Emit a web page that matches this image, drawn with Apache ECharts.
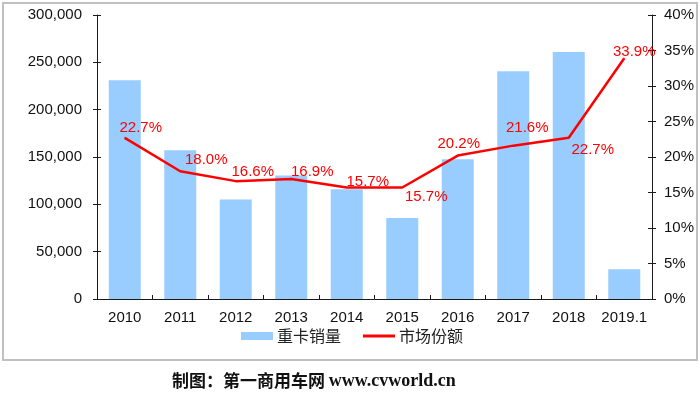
<!DOCTYPE html>
<html><head><meta charset="utf-8">
<script src="https://cdn.jsdelivr.net/npm/echarts@6/dist/echarts.min.js"></script>
<style>html,body{margin:0;padding:0;background:#fff}#c{width:700px;height:397px}</style>
</head><body><div id="c"></div>
<script>
const categories = ['2010','2011','2012','2013','2014','2015','2016','2017','2018','2019.1'];
const salesValues = [231000, 157000, 105000, 130500, 116000, 85500, 147500, 240500, 261000, 31500];
const shareValues = [22.7, 18.0, 16.6, 16.9, 15.7, 15.7, 20.2, 21.6, 22.7, 33.9];
const leftTicks = { min: 0, max: 300000, interval: 50000 };
const rightTicks = { min: 0, max: 40, interval: 5 };
const labelOffsets = [[16,-10],[26,-11],[17,-9],[21,-7],[21,-6],[24,9],[1,-12],[14,-18],[24,12],[10,-6]];

const axisColor = '#1a1a1a';
const font = '"Liberation Sans", Arial, sans-serif';
const chart = echarts.init(document.getElementById('c'), null, {renderer:'canvas'});
const yBase = (side, t, fmt, margin) => ({
  type:'value', position: side, min:t.min, max:t.max, interval:t.interval,
  splitLine:{show:false},
  axisLine:{show:true, lineStyle:{color:axisColor, width:1}},
  axisTick:{show:true, inside:false, length:4, lineStyle:{color:axisColor}},
  axisLabel:{color:'#111', fontFamily:font, fontSize:15, margin:margin, formatter:fmt}
});
const yCross = (side, t) => ({
  type:'value', position: side, min:t.min, max:t.max, interval:t.interval,
  splitLine:{show:false}, axisLine:{show:false}, axisLabel:{show:false},
  axisTick:{show:true, inside:true, length:4, lineStyle:{color:axisColor}}
});
chart.setOption({
  animation:false,
  grid:{left:97, right:48, top:15, bottom:98, containLabel:false},
  xAxis:{type:'category', data:categories, boundaryGap:true,
    axisLine:{lineStyle:{color:axisColor, width:1}},
    axisTick:{show:true, inside:true, length:4, lineStyle:{color:axisColor}},
    axisLabel:{color:'#111', fontFamily:font, fontSize:15, margin:11, interval:0}},
  yAxis:[
    yBase('left', leftTicks, v => v.toLocaleString('en-US'), 15),
    yBase('right', rightTicks, v => v + '%', 12),
    yCross('left', leftTicks),
    yCross('right', rightTicks)
  ],
  legend:[
    {left:241, top:328, padding:0, itemWidth:32, itemHeight:8, itemGap:10,
     data:[{name:'重卡销量', icon:'rect'}],
     textStyle:{fontFamily:'"Noto Sans CJK SC", sans-serif', fontSize:16, color:'#222', padding:[0,0,0,-1]}},
    {left:363, top:328, padding:0, itemWidth:32, itemHeight:3, itemGap:10,
     data:[{name:'市场份额', icon:'rect'}],
     textStyle:{fontFamily:'"Noto Sans CJK SC", sans-serif', fontSize:16, color:'#222', padding:[0,0,0,-1]}}
  ],
  graphic:[
    {type:'rect', shape:{x:3, y:3, width:694, height:357}, style:{fill:'none', stroke:'#c0c0c0', lineWidth:2}, silent:true, z:-1},
    {type:'text', left:172, top:372, style:{text:'{c|制图：第一商用车网 }{l|www.cvworld.cn}',
      rich:{c:{font:'bold 17px "Noto Sans CJK SC", serif', fill:'#111'},
            l:{font:'bold 18px "Liberation Serif", serif', fill:'#111'}}}}
  ],
  series:[
    {name:'重卡销量', type:'bar', data:salesValues, yAxisIndex:0, barWidth:32,
     itemStyle:{color:'#99ccff'}},
    {name:'市场份额', type:'line', data:shareValues.map((v,i)=>({value:v, label:{offset:labelOffsets[i]}})),
     yAxisIndex:1, symbol:'circle', symbolSize:1, showSymbol:true,
     itemStyle:{color:'#ff0000'}, lineStyle:{color:'#ff0000', width:2.5},
     label:{show:true, position:'inside', color:'#ff0000', fontFamily:font, fontSize:15,
       formatter:p => p.value.toFixed(1) + '%'}, z:3}
  ]
});
</script></body></html>
